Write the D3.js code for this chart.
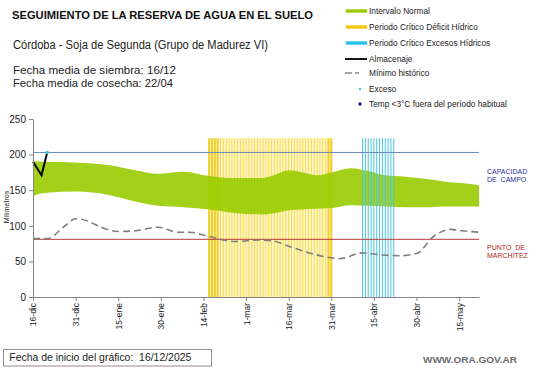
<!DOCTYPE html>
<html>
<head>
<meta charset="utf-8">
<script src="https://cdn.jsdelivr.net/npm/d3@7"></script>
<style>
  body { margin: 0; background: #fff; }
  svg { display: block; font-family: Arial, "Liberation Sans", sans-serif; }
</style>
</head>
<body>
<script>
// Datos (días desde el 16/12)
const bandaDias = [0, 4, 15, 27, 36, 44, 53, 62, 71, 80, 84, 90, 95, 100, 105, 112, 118, 124, 131, 140, 145, 151, 157];
const bandaSup  = [191, 190, 189, 185, 178, 173, 176, 170, 167, 167, 170, 178, 175, 171, 175, 181, 177, 171, 169, 165, 162, 160, 157];
const bandaInf  = [142, 146, 148, 143, 134, 128, 126, 123, 118, 116, 117, 122, 123, 124, 125, 129, 128, 127, 126, 126, 127, 127, 127];

const minimoDias = [0, 5, 11, 15, 19, 24, 30, 36, 44, 51, 55, 62, 71, 80, 84, 91, 99, 108, 116, 123, 129, 135, 141, 147, 151, 157];
const minimoVal  = [82, 82, 99, 110, 107, 98, 92, 93, 98, 91, 91, 85, 78, 80, 79, 70, 60, 54, 62, 59, 58, 61, 85, 95, 93, 91];

const almacDias = [0, 3, 5];
const almacVal  = [190, 171, 203];

const excesoDias = [5];
const excesoVal  = [203];

const deficitPeriodo = [62, 105];   // 16-feb a 31-mar
const excesoPeriodo  = [116, 127];  // 11-abr a 22-abr
const capacidadCampo = 203;
const puntoMarchitez = 81;

const tickDias = [0, 15, 30, 45, 60, 75, 90, 105, 120, 135, 150];
const tickEtiquetas = ["16-dic", "31-dic", "15-ene", "30-ene", "14-feb", "1-mar", "16-mar", "31-mar", "15-abr", "30-abr", "15-may"];
const yTicks = [0, 50, 100, 150, 200, 250];

const W = 541, H = 368;

const svg = d3.select("body").append("svg")
    .attr("width", W)
    .attr("height", H);

svg.append("rect").attr("width", W).attr("height", H).attr("fill", "#fff");

const x = d3.scaleLinear().domain([0, 157]).range([33, 479]);
const y = d3.scaleLinear().domain([0, 250]).range([297, 119]);

const plot = svg.append("g");

// Periodo crítico déficit hídrico (amarillo)
const topPeriodo = 223;
const borde = d => d - deficitPeriodo[0] < 4 || deficitPeriodo[1] - d < 2;
plot.append("rect")
    .attr("x", x(deficitPeriodo[0]) - 1)
    .attr("y", y(topPeriodo))
    .attr("width", x(deficitPeriodo[1]) - x(deficitPeriodo[0]) + 2)
    .attr("height", y(0) - y(topPeriodo))
    .attr("fill", "#fff6c6");

plot.selectAll(".def")
    .data(d3.range(deficitPeriodo[0], deficitPeriodo[1] + 1))
    .join("line")
    .attr("class", "def")
    .attr("x1", d => x(d)).attr("x2", d => x(d))
    .attr("y1", y(topPeriodo)).attr("y2", y(0))
    .attr("stroke", d => borde(d) ? "#f0cf2c" : "#f4da56")
    .attr("stroke-width", d => borde(d) ? 2 : 1);

// Intervalo normal
const banda = bandaDias.map((d, i) => ({ dia: d, sup: bandaSup[i], inf: bandaInf[i] }));
plot.append("path")
    .datum(banda)
    .attr("fill", "#99cc00")
    .attr("fill-opacity", 0.9)
    .attr("d", d3.area()
        .x(d => x(d.dia))
        .y0(d => y(d.inf))
        .y1(d => y(d.sup))
        .curve(d3.curveMonotoneX));

// Periodo crítico excesos hídricos (celeste)
plot.selectAll(".exc")
    .data(d3.range(excesoPeriodo[0], excesoPeriodo[1] + 1))
    .join("line")
    .attr("class", "exc")
    .attr("x1", d => x(d)).attr("x2", d => x(d))
    .attr("y1", y(topPeriodo)).attr("y2", y(0))
    .attr("stroke", "#48c6e6")
    .attr("stroke-width", 1);

// Líneas de referencia
plot.append("line")
    .attr("x1", x(0)).attr("x2", x(157))
    .attr("y1", y(capacidadCampo)).attr("y2", y(capacidadCampo))
    .attr("stroke", "#6c88b8").attr("stroke-width", 1);

plot.append("line")
    .attr("x1", x(0)).attr("x2", x(157))
    .attr("y1", y(puntoMarchitez)).attr("y2", y(puntoMarchitez))
    .attr("stroke", "#b83a3a").attr("stroke-width", 1);

// Mínimo histórico
const minimo = minimoDias.map((d, i) => ({ dia: d, v: minimoVal[i] }));
plot.append("path")
    .datum(minimo)
    .attr("fill", "none")
    .attr("stroke", "#7f7f7f")
    .attr("stroke-width", 1.6)
    .attr("stroke-dasharray", "7,4")
    .attr("d", d3.line().x(d => x(d.dia)).y(d => y(d.v)).curve(d3.curveMonotoneX));

// Almacenaje
const almac = almacDias.map((d, i) => ({ dia: d, v: almacVal[i] }));
plot.append("path")
    .datum(almac)
    .attr("fill", "none")
    .attr("stroke", "#000")
    .attr("stroke-width", 2)
    .attr("d", d3.line().x(d => x(d.dia)).y(d => y(d.v)));

// Exceso
plot.selectAll(".pto")
    .data(excesoDias.map((d, i) => ({ dia: d, v: excesoVal[i] })))
    .join("circle")
    .attr("class", "pto")
    .attr("cx", d => x(d.dia)).attr("cy", d => y(d.v))
    .attr("r", 1.8)
    .attr("fill", "#3cc3e6");

// Ejes
const ejeY = svg.append("g")
    .attr("transform", `translate(${x(0)},0)`)
    .call(d3.axisLeft(y).tickValues(yTicks).tickSize(4).tickSizeOuter(0).tickPadding(3));
ejeY.selectAll("text").attr("font-size", 10).attr("fill", "#222");

const ejeX = svg.append("g")
    .attr("transform", `translate(0,${y(0)})`)
    .call(d3.axisBottom(x).tickValues(tickDias).tickFormat((d, i) => tickEtiquetas[i]).tickSize(4).tickSizeOuter(0));
ejeX.selectAll("text")
    .attr("font-size", 8.5)
    .attr("fill", "#222")
    .attr("x", -6).attr("y", 0).attr("dy", "0.35em")
    .attr("transform", "rotate(-90)")
    .style("text-anchor", "end");

svg.selectAll(".domain, .tick line").attr("stroke", "#868686");

svg.append("text")
    .attr("transform", `translate(8.5,207) rotate(-90)`)
    .attr("text-anchor", "middle")
    .attr("font-size", 7)
    .attr("fill", "#222")
    .text("Milímetros");

// Etiquetas de referencia
const etiqDer = [
    { t: "CAPACIDAD", y: 173.5, c: "#2e2e9c" },
    { t: "DE  CAMPO", y: 181.5, c: "#2e2e9c" },
    { t: "PUNTO  DE", y: 249.5, c: "#b02424" },
    { t: "MARCHITEZ", y: 257.5, c: "#b02424" }
];
svg.selectAll(".etq")
    .data(etiqDer)
    .join("text")
    .attr("class", "etq")
    .attr("x", 487).attr("y", d => d.y)
    .attr("font-size", 7)
    .attr("fill", d => d.c)
    .style("white-space", "pre")
    .text(d => d.t);

// Títulos
svg.append("text")
    .attr("x", 12).attr("y", 19)
    .attr("font-size", 11).attr("font-weight", "bold").attr("fill", "#111")
    .attr("textLength", 301).attr("lengthAdjust", "spacingAndGlyphs")
    .text("SEGUIMIENTO DE LA RESERVA DE AGUA EN EL SUELO");

svg.append("text")
    .attr("x", 13).attr("y", 49.3)
    .attr("font-size", 12.5).attr("fill", "#222")
    .attr("textLength", 255).attr("lengthAdjust", "spacingAndGlyphs")
    .text("Córdoba - Soja de Segunda (Grupo de Madurez VI)");

svg.append("text")
    .attr("x", 13).attr("y", 74)
    .attr("font-size", 11).attr("fill", "#222")
    .attr("textLength", 163).attr("lengthAdjust", "spacingAndGlyphs")
    .text("Fecha media de siembra: 16/12");

svg.append("text")
    .attr("x", 13).attr("y", 86.5)
    .attr("font-size", 11).attr("fill", "#222")
    .attr("textLength", 160).attr("lengthAdjust", "spacingAndGlyphs")
    .text("Fecha media de cosecha: 22/04");

// Leyenda
const leyenda = [
    { t: "Intervalo Normal", y: 11, tipo: "rect", c: "#99cc00" },
    { t: "Periodo Crítico Déficit Hídrico", y: 27, tipo: "rect", c: "#f7c90a" },
    { t: "Periodo Crítico Excesos Hídricos", y: 43, tipo: "rect", c: "#27c1ea" },
    { t: "Almacenaje", y: 59, tipo: "line", c: "#000" },
    { t: "Mínimo histórico", y: 73, tipo: "dash", c: "#8a8a8a" },
    { t: "Exceso", y: 89, tipo: "dot", c: "#3cc3e6" },
    { t: "Temp <3°C fuera del período habitual", y: 104, tipo: "diamond", c: "#1f1f8f" }
];
const ley = svg.append("g");
leyenda.forEach(d => {
    if (d.tipo === "rect") {
        ley.append("rect").attr("x", 346).attr("y", d.y - 1.7).attr("width", 21).attr("height", 3.4).attr("fill", d.c);
    } else if (d.tipo === "line") {
        ley.append("line").attr("x1", 345).attr("x2", 367).attr("y1", d.y).attr("y2", d.y).attr("stroke", d.c).attr("stroke-width", 1.8);
    } else if (d.tipo === "dash") {
        ley.append("line").attr("x1", 345).attr("x2", 367).attr("y1", d.y).attr("y2", d.y)
            .attr("stroke", d.c).attr("stroke-width", 1.5).attr("stroke-dasharray", "7,3,4,20");
    } else if (d.tipo === "dot") {
        ley.append("rect").attr("x", 359).attr("y", d.y - 1).attr("width", 2).attr("height", 2).attr("fill", d.c);
    } else {
        ley.append("path").attr("transform", `translate(360,${d.y})`).attr("d", "M0,-2.2L2,0L0,2.2L-2,0Z").attr("fill", d.c);
    }
    ley.append("text")
        .attr("x", 369).attr("y", d.y).attr("dy", "0.35em")
        .attr("font-size", 8.3).attr("fill", "#222")
        .text(d.t);
});

// Pie
svg.append("rect")
    .attr("x", 3.5).attr("y", 349.5).attr("width", 208).attr("height", 16.5)
    .attr("fill", "#fff").attr("stroke", "#9a8a8a");

svg.append("text")
    .attr("x", 9.3).attr("y", 361)
    .attr("font-size", 11).attr("fill", "#222")
    .style("white-space", "pre")
    .attr("textLength", 182).attr("lengthAdjust", "spacingAndGlyphs")
    .text("Fecha de inicio del gráfico:  16/12/2025");

svg.append("text")
    .attr("x", 423).attr("y", 363)
    .attr("font-size", 9.5).attr("font-weight", "bold").attr("fill", "#6d6d6d")
    .attr("textLength", 94).attr("lengthAdjust", "spacingAndGlyphs")
    .text("WWW.ORA.GOV.AR");
</script>
</body>
</html>
